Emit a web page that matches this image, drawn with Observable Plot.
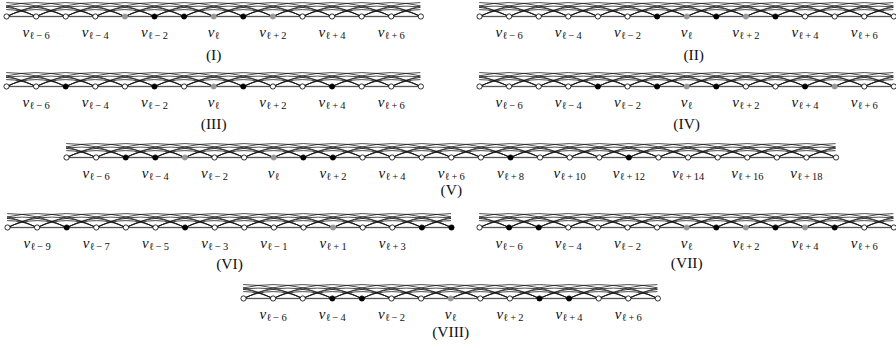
<!DOCTYPE html>
<html><head><meta charset="utf-8">
<script src="https://cdn.jsdelivr.net/npm/d3@7"></script>
<script src="https://cdn.jsdelivr.net/npm/@observablehq/plot@0.6"></script>
<style>
body{margin:0;background:#fff;}
#root{position:relative;width:896px;height:348px;overflow:hidden;background:#fff;}
#root svg{position:absolute;}
</style></head><body><div id="root"></div>
<script>
// ---- data ----
const captions = ["(I)","(II)","(III)","(IV)","(V)","(VI)","(VII)","(VIII)"];
const ranges = [[-7,7],[-7,7],[-7,7],[-7,7],[-7,19],[-10,5],[-7,7],[-7,7]];
const blackVertices = [
  [-2,-1,1],
  [-1,1,3],
  [-5,-2,1,4],
  [-3,-1,1,4],
  [-5,-4,1,2,8,12],
  [-8,-4,4,5],
  [-6,-5,1,3,5],
  [-4,-3,3,4]
];
const grayVertices = [
  [-3,0,2],
  [0,2],
  [0],
  [0,5],
  [-3,0],
  [1],
  [0,2,4],
  [0]
];
const labelTicks = [
  [-6,-4,-2,0,2,4,6],[-6,-4,-2,0,2,4,6],[-6,-4,-2,0,2,4,6],[-6,-4,-2,0,2,4,6],
  [-6,-4,-2,0,2,4,6,8,10,12,14,16,18],
  [-9,-7,-5,-3,-1,1,3],
  [-6,-4,-2,0,2,4,6],[-6,-4,-2,0,2,4,6]
];
const arcDistances = [2,3,4];

// ---- layout (px): first-vertex x, vertex y, caption dy, caption dx ----
const layout = [[6,16,44,0],[479,16,44,7],[6,86,43,0],[479,86,43,0],[66,157,38,0],[7,227,41,0],[479,227,41,0],[243,298,39,0]];
const spacing = 29.6;
const bend = 26.6;

const root = document.getElementById("root");
const sub = k => k === 0 ? "ℓ" : "ℓ\u2009" + (k < 0 ? "−" : "+") + "\u2009" + Math.abs(k);

captions.forEach((cap, p) => {
  const [k0,k1] = ranges[p];
  const [left, vy, capDy, capDx] = layout[p];
  const ml = 10, mr = 10;
  const width = (k1-k0)*spacing + ml + mr;
  const height = vy + 52;
  const nodes = d3.range(k0,k1+1).map(k => ({k,
    c: blackVertices[p].includes(k) ? "b" : grayVertices[p].includes(k) ? "g" : "w"}));
  const path = d3.range(k0, k1).map(a => ({a, b:a+1}));
  const arcs = d => d3.range(k0-d+1, k1).map(a => ({a, b:a+d}));
  const marks = [
    Plot.link(path, {x1:"a", x2:"b", y1:()=>0, y2:()=>0, stroke:"#555", strokeWidth:1.3})
  ];
  arcDistances.forEach(d => {
    marks.push(Plot.arrow(arcs(d), {x1:"a", x2:"b", y1:()=>0, y2:()=>0, bend, headLength:0, stroke:"#111", strokeWidth:0.75, clip:true}));
  });
  marks.push(Plot.dot(nodes, {x:"k", y:()=>0, r:2.6,
    fill: d => d.c === "b" ? "#000" : d.c === "g" ? "#999" : "#fff",
    stroke: d => d.c === "g" ? "#999" : "#000", strokeWidth:0.8}));
  marks.push(Plot.axisX({ticks: labelTicks[p], tickSize:0, tickPadding:9.5, tickFormat: k => "v|" + sub(k), fontSize:15, fill:"#111"}));
  marks.push(Plot.text([cap], {text: d => d, frameAnchor:"bottom", dy: capDy, dx: capDx, fontSize:15.5, fill:"#111"}));
  const svg = Plot.plot({
    width, height, marginLeft: ml, marginRight: mr, marginTop: 0, marginBottom: height - vy,
    x: {domain:[k0,k1], axis:null},
    y: {domain:[0,1], range:[vy, 0], axis:null},
    color: {type:"identity"},
    style: {background:"none", fontFamily:"'Liberation Serif', serif", overflow:"visible"},
    marks
  });
  svg.style.left = (left - ml) + "px";
  svg.style.top = "0px";
  svg.querySelectorAll('[aria-label="x-axis tick label"] text').forEach(t => {
    const [a,b] = t.textContent.split("|");
    t.textContent = "";
    const ns = "http://www.w3.org/2000/svg";
    const t1 = document.createElementNS(ns, "tspan");
    t1.setAttribute("font-style","italic");
    t1.textContent = a;
    const t2 = document.createElementNS(ns, "tspan");
    t2.setAttribute("font-size","10.5");
    t2.setAttribute("dy","0.25em");
    t2.textContent = b;
    t.appendChild(t1); t.appendChild(t2);
  });
  root.appendChild(svg);
});
</script></body></html>
